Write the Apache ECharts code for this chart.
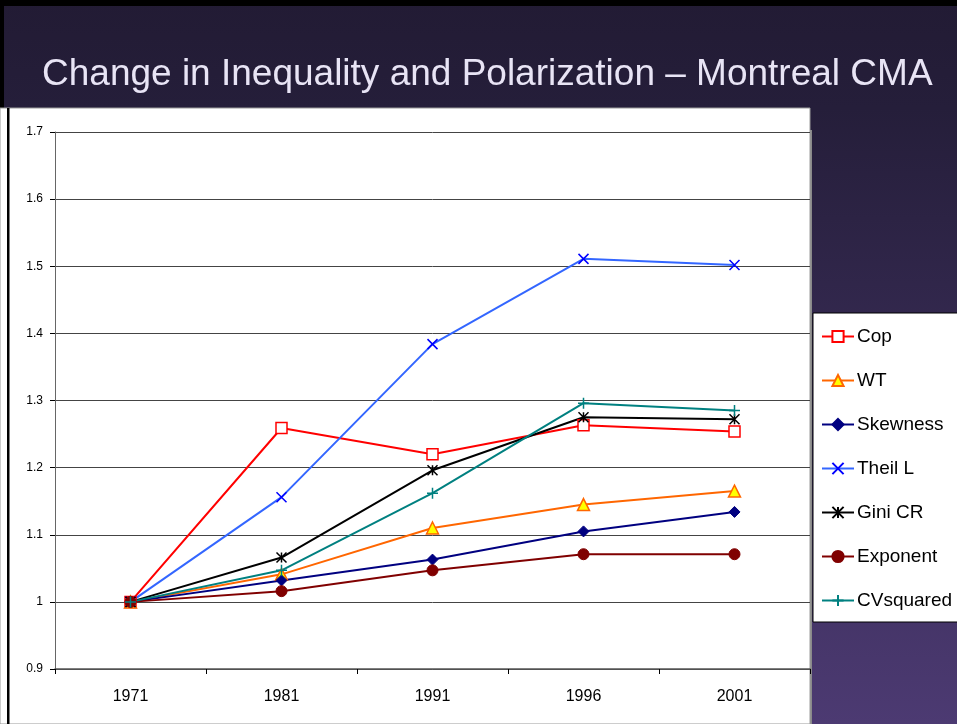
<!DOCTYPE html>
<html>
<head>
<meta charset="utf-8">
<script src="https://cdn.jsdelivr.net/npm/echarts@6/dist/echarts.min.js"></script>
<style>html,body{margin:0;padding:0;}#c{width:957px;height:724px;}</style>
</head>
<body>
<div id="c"></div>
<script>
var categories = ['1971', '1981', '1991', '1996', '2001'];
var cop = [1, 1.259, 1.220, 1.263, 1.254];
var wt = [1, 1.041, 1.110, 1.145, 1.165];
var skewness = [1, 1.032, 1.063, 1.105, 1.134];
var theilL = [1, 1.156, 1.384, 1.511, 1.502];
var giniCR = [1, 1.066, 1.196, 1.275, 1.272];
var exponent = [1, 1.016, 1.047, 1.071, 1.071];
var cvSquared = [1, 1.047, 1.162, 1.296, 1.285];
var titleText = 'Change in Inequality and Polarization \u2013 Montreal CMA';

var chart = echarts.init(document.getElementById('c'));
var font = 'Liberation Sans, Arial, sans-serif';

function mk(name, data, color, symbol, size, itemStyle) {
  return {
    name: name, type: 'line', data: data, color: color,
    symbol: symbol, symbolSize: size, showSymbol: true,
    lineStyle: {color: color, width: 2},
    itemStyle: itemStyle,
    emphasis: {disabled: true},
    animation: false
  };
}

var series = [
  mk('Cop', cop, '#ff0000', 'rect', 11, {color: '#ffffff', borderColor: '#ff0000', borderWidth: 1.5}),
  mk('WT', wt, '#ff6600', 'triangle', 12, {color: '#ffff00', borderColor: '#ff6600', borderWidth: 1.5}),
  mk('Skewness', skewness, '#000080', 'diamond', 11, {color: '#000080', borderColor: '#000080', borderWidth: 1}),
  mk('Theil L', theilL, '#3366ff', 'path://M0,0L10,10M10,0L0,10', 10, {color: 'none', borderColor: '#0000ff', borderWidth: 1.5}),
  mk('Gini CR', giniCR, '#000000', 'path://M0,0L10,10M10,0L0,10M5,0L5,10', 10, {color: 'none', borderColor: '#000000', borderWidth: 1.5}),
  mk('Exponent', exponent, '#800000', 'circle', 11, {color: '#800000', borderColor: '#800000', borderWidth: 1}),
  mk('CVsquared', cvSquared, '#008080', 'path://M5,0L5,10M0,5L10,5', 11, {color: 'none', borderColor: '#008080', borderWidth: 1.5})
];

chart.setOption({
  animation: false,
  backgroundColor: {
    type: 'linear', x: 0, y: 0, x2: 0, y2: 1,
    colorStops: [{offset: 0, color: '#221b34'}, {offset: 0.15, color: '#251e3a'}, {offset: 1, color: '#4c3a72'}]
  },
  graphic: [
    {type: 'rect', z: -10, shape: {x: 0, y: 0, width: 957, height: 6}, style: {fill: '#000000'}},
    {type: 'rect', z: -10, shape: {x: 0, y: 0, width: 4, height: 108}, style: {fill: '#000000'}},
    {type: 'rect', z: -10, shape: {x: 810, y: 130, width: 2, height: 594}, style: {fill: '#8a8a8a'}},
    {type: 'rect', z: -10, shape: {x: 0, y: 108, width: 810, height: 616}, style: {fill: '#ffffff', stroke: '#9a9a9a', lineWidth: 1}},
    {type: 'rect', z: -9, shape: {x: 7, y: 108, width: 2.5, height: 616}, style: {fill: '#000000'}}
  ],
  title: {
    text: titleText, left: 37, top: 51,
    textStyle: {color: '#e8e4f5', fontSize: 37, fontWeight: 'normal', fontFamily: font}
  },
  legend: {
    orient: 'vertical', left: 813, top: 313,
    padding: [14, 40, 12, 8],
    itemWidth: 32, itemHeight: 14, itemGap: 25,
    backgroundColor: '#ffffff', borderColor: '#000000', borderWidth: 1,
    textStyle: {color: '#000000', fontSize: 19, fontFamily: font, padding: [0, 0, 0, -2]},
    data: series.map(function (s) { return s.name; })
  },
  grid: {left: 55, right: 147, top: 132, bottom: 55, containLabel: false},
  xAxis: {
    type: 'category', data: categories, boundaryGap: true,
    axisLine: {lineStyle: {color: '#555555', width: 1.5}},
    axisTick: {show: true, length: 5, lineStyle: {color: '#000000'}},
    axisLabel: {color: '#000000', fontSize: 16, fontFamily: font, margin: 20},
    splitLine: {show: false}
  },
  yAxis: {
    type: 'value', min: 0.9, max: 1.7, interval: 0.1,
    axisLine: {show: true, lineStyle: {color: '#666666', width: 1}},
    axisTick: {show: true, length: 5, lineStyle: {color: '#000000'}},
    axisLabel: {color: '#000000', fontSize: 12, fontFamily: font, margin: 12,
      formatter: function (v) { return String(Math.round(v * 10) / 10); }},
    splitLine: {show: true, lineStyle: {color: '#444444', width: 1}}
  },
  series: series
});
</script>
</body>
</html>
